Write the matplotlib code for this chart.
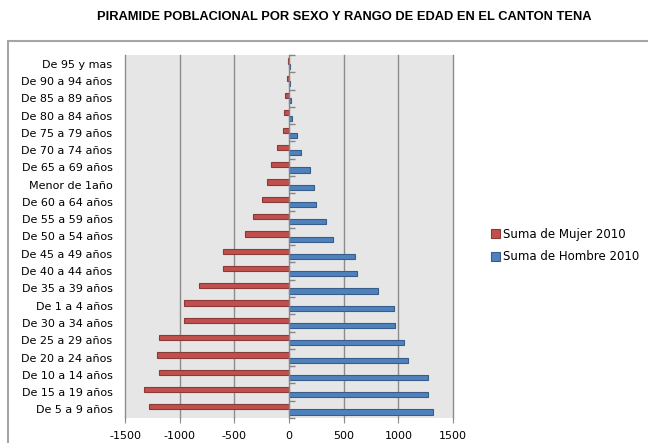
import numpy as np
import matplotlib
matplotlib.use("Agg")
import matplotlib.pyplot as plt
from matplotlib.patches import Rectangle

plt.rcParams['axes.unicode_minus'] = False
plt.rcParams['font.family'] = ['DejaVu Sans']

# Categories listed from top to bottom as in the chart
categories = [
    "De 95 y mas", "De 90 a 94 años", "De 85 a 89 años", "De 80 a 84 años",
    "De 75 a 79 años", "De 70 a 74 años", "De 65 a 69 años", "Menor de 1año",
    "De 60 a 64 años", "De 55 a 59 años", "De 50 a 54 años", "De 45 a 49 años",
    "De 40 a 44 años", "De 35 a 39 años", "De 1 a 4 años", "De 30 a 34 años",
    "De 25 a 29 años", "De 20 a 24 años", "De 10 a 14 años", "De 15 a 19 años",
    "De 5 a 9 años",
]
mujer_2010 = [12, 15, 34, 43, 55, 110, 165, 204, 244, 327, 400, 601, 601,
              824, 964, 964, 1188, 1209, 1188, 1328, 1279]
hombre_2010 = [10, 12, 20, 30, 70, 110, 193, 233, 245, 334, 405, 608, 620,
               813, 960, 970, 1052, 1092, 1274, 1274, 1317]
x_ticks = [-1500, -1000, -500, 0, 500, 1000, 1500]
title = "PIRAMIDE POBLACIONAL POR SEXO Y RANGO DE EDAD EN EL CANTON TENA"
label_mujer = "Suma de Mujer 2010"
label_hombre = "Suma de Hombre 2010"

W, H = 648, 443
fig = plt.figure(figsize=(W / 100, H / 100), dpi=100)
fig.patch.set_facecolor("white")

# outer chart frame (only top and left edges visible)
fig.patches.append(Rectangle((8 / W, -0.2), 1.2, 1.2 - 41 / H,
                             transform=fig.transFigure, fill=False,
                             edgecolor="#a6a6a6", linewidth=1.5))

ax = fig.add_axes([125 / W, 1 - 418 / H, (453 - 125) / W, (418 - 55) / H])
ax.set_facecolor("#e6e6e6")

n = len(categories)
y = np.arange(n)
h = 0.3
red_fc, red_ec = "#c0504d", "#8c3a38"
blue_fc, blue_ec = "#4f81bd", "#385d8a"

ax.barh(y - h / 2, -np.array(mujer_2010), height=h, color=red_fc,
        edgecolor=red_ec, linewidth=0.8, label=label_mujer, zorder=3)
ax.barh(y + h / 2, hombre_2010, height=h, color=blue_fc,
        edgecolor=blue_ec, linewidth=0.8, label=label_hombre, zorder=3)

ax.set_xlim(-1500, 1500)
ax.set_ylim(n - 0.5, -0.5)
ax.set_xticks(x_ticks)
ax.set_xticklabels([str(v) for v in x_ticks])
ax.set_yticks(y)
ax.set_yticklabels(categories)
ax.tick_params(axis='y', length=0, pad=9, labelsize=8)
ax.tick_params(axis='x', length=3.5, pad=6, labelsize=8, color="#8c8c8c")
for s in ax.spines.values():
    s.set_visible(False)
ax.set_axisbelow(True)
for xv in x_ticks:
    if xv != 0:
        ax.axvline(xv, color="#8c8c8c", linewidth=1.0, zorder=1, clip_on=False)

# category axis at zero with boundary tick marks
ax2 = ax.twinx()
ax2.set_ylim(ax.get_ylim())
for k, s in ax2.spines.items():
    s.set_visible(k == 'right')
ax2.spines['right'].set_position(('data', 0))
ax2.spines['right'].set_color("#868686")
ax2.spines['right'].set_linewidth(1.0)
ax2.spines['right'].set_zorder(4)
ax2.set_yticks(np.arange(n + 1) - 0.5)
ax2.tick_params(axis='y', direction='out', length=4, labelright=False,
                color="#868686", width=1.0)

fig.text(344 / W, 1 - 17 / H, title, ha='center', va='center',
         fontsize=9.3, fontweight='bold', family='Liberation Sans')

handles, labels = ax.get_legend_handles_labels()
leg = fig.legend(handles, labels, loc='upper left',
                 bbox_to_anchor=(491 / W, 1 - 228 / H), frameon=False,
                 fontsize=8.5, borderpad=0, borderaxespad=0,
                 handlelength=0.8, handleheight=0.8, handletextpad=0.2,
                 labelspacing=0.78)

fig.savefig("out.png", dpi=100)
